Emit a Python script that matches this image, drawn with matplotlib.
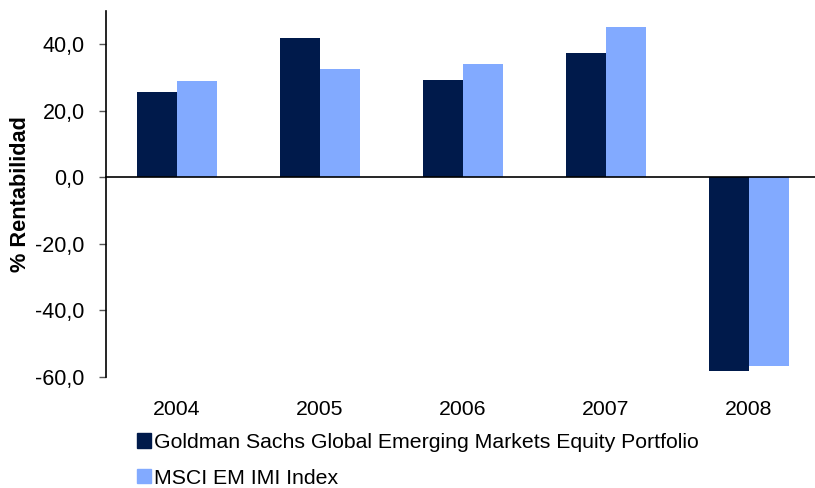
import matplotlib
matplotlib.use("Agg")
import matplotlib.pyplot as plt
import numpy as np
from matplotlib.patches import Patch

years = ["2004", "2005", "2006", "2007", "2008"]
goldman = [25.6, 41.8, 29.2, 37.3, -58.3]
msci = [28.9, 32.5, 34.0, 45.1, -56.8]
series_names = ["Goldman Sachs Global Emerging Markets Equity Portfolio", "MSCI EM IMI Index"]
yticks = [-60, -40, -20, 0, 20, 40]

dark = "#001a4b"
light = "#82aaff"

plt.rcParams["font.family"] = ["Liberation Sans", "DejaVu Sans"]

fig = plt.figure(figsize=(8.15, 4.88), dpi=100)
ax = fig.add_axes([105.5 / 815, 1 - 376.5 / 488, 715 / 815, (376.5 - 11) / 488])

x = np.arange(len(years))
w = 0.28
ax.bar(x - w / 2, goldman, w, color=dark)
ax.bar(x + w / 2, msci, w, color=light)

ax.set_xlim(-0.5, len(years) - 0.5)
ax.set_ylim(-60, 50)
ax.axhline(0, color="black", lw=1.2, clip_on=False)

for s in ["top", "right", "bottom"]:
    ax.spines[s].set_visible(False)
ax.spines["left"].set_linewidth(1.2)

ax.set_xticks(x)
ax.set_xticklabels(years, fontsize=15.3)
ax.tick_params(axis="x", length=0, pad=17)
ax.set_yticks(yticks)
ax.set_yticklabels([f"{v:.1f}".replace(".", ",") for v in yticks], fontsize=15.5)
ax.tick_params(axis="y", length=5, width=1, color="#555555", pad=10)

ax.set_ylabel("% Rentabilidad", fontsize=15.7, fontweight="bold")
ax.yaxis.set_label_coords(-0.104, 0.5)

handles = [Patch(color=dark), Patch(color=light)]
fig.legend(handles, series_names, loc="upper left", bbox_to_anchor=(137 / 815, 1 - 433 / 488),
           frameon=False, fontsize=15.3, handlelength=0.65, handleheight=0.65,
           handletextpad=0.15, labelspacing=0.78, borderaxespad=0, borderpad=0)

fig.savefig("out.png", dpi=100)
